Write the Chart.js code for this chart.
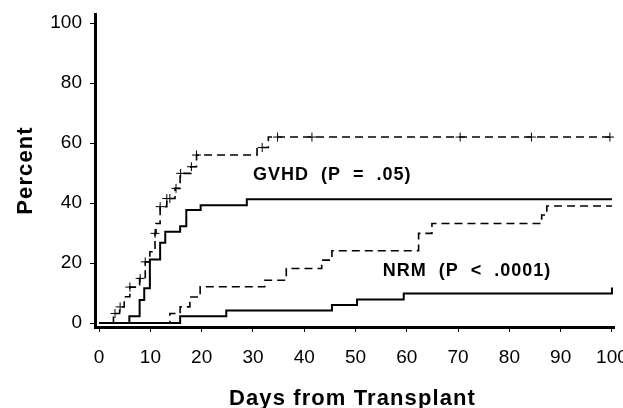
<!DOCTYPE html>
<html>
<head>
<meta charset="utf-8">
<script src="https://cdn.jsdelivr.net/npm/chart.js@4.4.1/dist/chart.umd.min.js"></script>
<style>
  html, body { margin: 0; padding: 0; background: #fff; }
  #wrap { width: 623px; height: 408px; }
</style>
</head>
<body>
<div id="wrap"><canvas id="km-chart" width="623" height="408"></canvas></div>
<script>
// values (days, percent)
const gvhdDashDays = [0, 2.8, 4, 4.9, 6, 7.9, 9, 9.9, 10.9, 11.1, 11.9, 13.2, 14.8, 15.8, 17.9, 19, 30.8, 33, 100];
const gvhdDashPct = [0, 3.2, 5.4, 8.8, 12, 14.9, 20.4, 23.8, 29.9, 33.2, 38.8, 41.5, 44.9, 49.9, 52.1, 56, 58.5, 62, 62];

const gvhdSolidDays = [0, 5.9, 7.9, 8.8, 9.9, 11.9, 12.9, 15.8, 17, 19.8, 28.8, 100];
const gvhdSolidPct = [0, 2.3, 7.7, 11.6, 21.2, 26.8, 30.4, 32.3, 37.7, 39.3, 41.3, 41.3];

const nrmDashDays = [0, 13.8, 15.8, 17.7, 19.7, 32.3, 36.5, 43.4, 45.4, 62.3, 64.9, 86.3, 87.3, 100];
const nrmDashPct = [0, 3.2, 5.4, 8.7, 12.1, 14.3, 18.2, 21, 24.1, 29.9, 33.2, 36, 39, 39];

const nrmSolidDays = [0, 15.8, 24.8, 45.4, 50.3, 59.4, 100];
const nrmSolidPct = [0, 2.3, 4.2, 6, 7.9, 9.9, 11.9];

// censored patients (+ marks) on the dashed GVHD curve
const censorDays = [3.1, 4.1, 6, 8, 9, 10.9, 11.9, 13.2, 13.8, 15, 15.9, 18, 19, 31.8, 34.8, 41.5, 70.4, 84.3, 99.6];
const censorPct = [3.2, 5.4, 12, 14.9, 20.4, 29.9, 38.8, 41.5, 41.5, 44.9, 49.9, 52.1, 56, 58.5, 62, 62, 62, 62, 62];

const xTicks = [0, 10, 20, 30, 40, 50, 60, 70, 80, 90, 100];
const yTicks = [0, 20, 40, 60, 80, 100];

const notes = [
    { text: "GVHD  (P  =  .05)", day: 30, pct: 49.4 },
    { text: "NRM  (P  <  .0001)", day: 55.3, pct: 17.4 }
];

const to_points = (xs, ys) => xs.map((x, i) => ({ x: x, y: ys[i] }));

const step_line = (xs, ys, dashed) => ({
    data: to_points(xs, ys),
    borderColor: "#000",
    borderWidth: dashed ? 1.6 : 2,
    borderDash: dashed ? [8, 5] : [],
    stepped: true,
    pointRadius: 0,
    fill: false
});

const fontFamily = "'Liberation Sans', Arial, Helvetica, sans-serif";

const textPlugin = {
    id: "textPlugin",
    afterDraw(chart) {
        const ctx = chart.ctx;
        const xs = chart.scales.x;
        const ys = chart.scales.y;
        const area = chart.chartArea;
        ctx.save();
        ctx.fillStyle = "#000";

        // curve labels
        ctx.font = "bold 18px " + fontFamily;
        ctx.letterSpacing = "1px";
        ctx.textAlign = "left";
        ctx.textBaseline = "middle";
        notes.forEach((n) => {
            ctx.fillText(n.text, xs.getPixelForValue(n.day), ys.getPixelForValue(n.pct));
        });

        // axis titles
        ctx.font = "bold 22px " + fontFamily;
        ctx.letterSpacing = "1.1px";
        ctx.textAlign = "center";
        ctx.textBaseline = "alphabetic";
        ctx.fillText("Days from Transplant", (area.left + area.right) / 2 - 2, 405);

        ctx.translate(32, (area.top + area.bottom) / 2);
        ctx.rotate(-Math.PI / 2);
        ctx.fillText("Percent", 0, 0);
        ctx.restore();
    }
};

const chartContainer = document.getElementById("km-chart").getContext("2d");
const kmChart = new Chart(chartContainer, {
    type: "line",
    data: {
        datasets: [
            step_line(gvhdDashDays, gvhdDashPct, true),
            step_line(gvhdSolidDays, gvhdSolidPct, false),
            step_line(nrmDashDays, nrmDashPct, true),
            step_line(nrmSolidDays, nrmSolidPct, false),
            {
                data: to_points(censorDays, censorPct),
                showLine: false,
                pointStyle: "cross",
                pointRadius: 4.5,
                borderColor: "#000",
                borderWidth: 1,
                backgroundColor: "#000"
            }
        ]
    },
    options: {
        responsive: false,
        animation: false,
        devicePixelRatio: 1,
        layout: { padding: { left: 0, right: 9, top: 14, bottom: 0 } },
        plugins: {
            legend: { display: false },
            tooltip: { enabled: false }
        },
        scales: {
            x: {
                type: "linear",
                min: -0.8,
                max: 100.4,
                afterBuildTicks: (scale) => { scale.ticks = xTicks.map((v) => ({ value: v })); },
                afterFit: (scale) => {
                    scale.height = 81;
                    scale.paddingLeft = 0;
                    scale.paddingRight = 0;
                },
                grid: { display: true, drawOnChartArea: false, drawTicks: true, tickLength: 5, color: "#000", tickColor: "#000", lineWidth: 1 },
                border: { display: true, color: "#000", width: 3 },
                ticks: {
                    color: "#000",
                    padding: 14,
                    maxRotation: 0,
                    autoSkip: false,
                    font: { family: fontFamily, size: 19 }
                }
            },
            y: {
                type: "linear",
                min: -1.3,
                max: 103,
                afterBuildTicks: (scale) => { scale.ticks = yTicks.map((v) => ({ value: v })); },
                afterFit: (scale) => {
                    scale.width = 95;
                    scale.paddingTop = 0;
                    scale.paddingBottom = 0;
                },
                grid: { display: true, drawOnChartArea: false, drawTicks: true, tickLength: 5, color: "#000", tickColor: "#000", lineWidth: 1 },
                border: { display: true, color: "#000", width: 3 },
                ticks: {
                    color: "#000",
                    padding: 8,
                    autoSkip: false,
                    font: { family: fontFamily, size: 19 }
                }
            }
        }
    },
    plugins: [textPlugin]
});
</script>
</body>
</html>
